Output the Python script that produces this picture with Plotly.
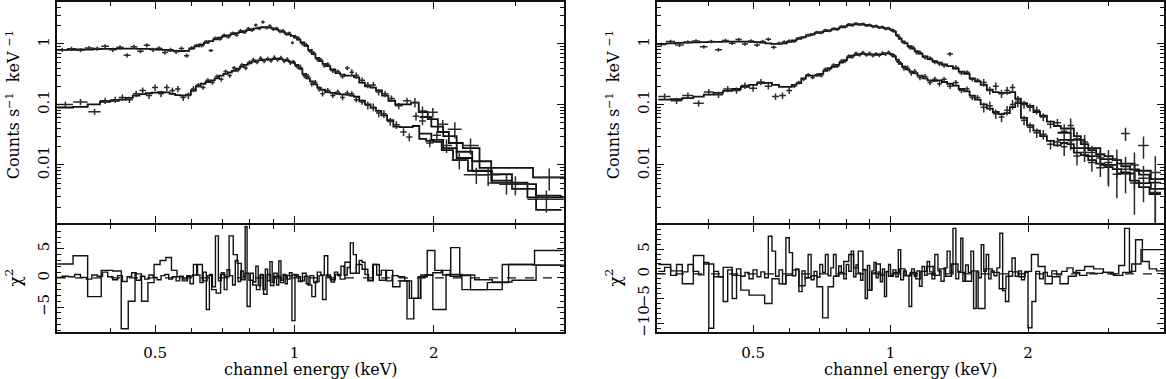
"""Two X-ray spectra (counts + chi residuals), XSPEC-style, rebuilt with plotly."""

import plotly.graph_objects as go

# ---------------- axis ticks ----------------
X_MAJOR = [0.5, 1, 2]
X_MAJOR_TEXT = ["0.5", "1", "2"]
X_MINOR = [0.4, 0.6, 0.7, 0.8, 0.9, 3]
Y_MAJOR = [0.01, 0.1, 1]
Y_MAJOR_TEXT = ["0.01", "0.1", "1"]
Y_MINOR = [0.002, 0.003, 0.004, 0.005, 0.006, 0.007, 0.008, 0.009,
           0.02, 0.03, 0.04, 0.05, 0.06, 0.07, 0.08, 0.09,
           0.2, 0.3, 0.4, 0.5, 0.6, 0.7, 0.8, 0.9, 2, 3, 4]
RES_L_TICKS = [-5, 0, 5]
RES_R_TICKS = [-10, -5, 0, 5]

# ---------------- left panel, bright spectrum ----------------
LA_E = [0.315, 0.33, 0.345, 0.36, 0.375, 0.39, 0.405, 0.42, 0.435, 0.45,
        0.465, 0.48, 0.495, 0.51, 0.525, 0.54, 0.555, 0.57, 0.585, 0.60,
        0.615, 0.63, 0.645, 0.66, 0.675, 0.69, 0.705, 0.72, 0.735, 0.75,
        0.765, 0.78, 0.795, 0.81, 0.825, 0.84, 0.855, 0.87, 0.885, 0.90,
        0.915, 0.93, 0.945, 0.96, 0.975, 0.99, 1.005, 1.02, 1.04, 1.06,
        1.08, 1.10, 1.12, 1.14, 1.16, 1.18, 1.21, 1.24, 1.27, 1.30,
        1.33, 1.36, 1.40, 1.44, 1.48, 1.52, 1.57, 1.62, 1.68, 1.75,
        1.82, 1.89, 1.99, 2.09, 2.22, 2.40, 2.62, 3.00, 3.55]
LA_MODEL = [0.80, 0.80, 0.81, 0.81, 0.82, 0.83, 0.83, 0.84, 0.84, 0.84,
            0.83, 0.83, 0.82, 0.81, 0.80, 0.78, 0.77, 0.76, 0.77, 0.84,
            0.91, 0.98, 1.04, 1.11, 1.19, 1.27, 1.33, 1.39, 1.45, 1.51,
            1.57, 1.63, 1.69, 1.75, 1.81, 1.86, 1.89, 1.90, 1.87, 1.81,
            1.74, 1.66, 1.58, 1.50, 1.43, 1.36, 1.28, 1.18, 1.06, 0.93,
            0.80, 0.68, 0.59, 0.52, 0.47, 0.43, 0.38, 0.33, 0.31, 0.30,
            0.30, 0.28, 0.23, 0.20, 0.19, 0.17, 0.14, 0.115, 0.10, 0.10,
            0.107, 0.075, 0.057, 0.035, 0.023, 0.019, 0.0089, 0.0089, 0.0062]
LA_RATE = [0.80, 0.83, 0.79, 0.86, 0.84, 0.92, 0.80, 0.88, 0.65, 0.90,
           0.76, 0.95, 0.80, 0.85, 0.72, 0.80, 0.74, 0.84, 0.64, 0.86,
           0.95, 0.93, 1.10, 0.78, 1.25, 1.20, 1.40, 1.30, 1.52, 1.40,
           1.66, 1.55, 1.80, 1.68, 2.05, 1.80, 2.30, 1.85, 2.00, 1.75,
           1.82, 1.60, 1.66, 1.45, 1.52, 1.05, 1.32, 1.24, 1.02, 0.97,
           0.76, 0.71, 0.56, 0.55, 0.44, 0.46, 0.36, 0.35, 0.29, 0.40,
           0.34, 0.30, 0.25, 0.21, 0.21, 0.16, 0.15, 0.125, 0.095, 0.115,
           0.108, 0.078, 0.074, 0.047, 0.039, 0.021, 0.0069, 0.0048, 0.0062]
LA_REL = [0.08, 0.08, 0.08, 0.08, 0.08, 0.08, 0.08, 0.08, 0.08, 0.08,
          0.08, 0.08, 0.08, 0.08, 0.08, 0.08, 0.08, 0.08, 0.08, 0.08,
          0.06, 0.06, 0.06, 0.06, 0.06, 0.06, 0.06, 0.06, 0.06, 0.06,
          0.06, 0.06, 0.06, 0.06, 0.06, 0.06, 0.06, 0.06, 0.06, 0.06,
          0.06, 0.06, 0.06, 0.06, 0.06, 0.06, 0.08, 0.08, 0.08, 0.08,
          0.08, 0.08, 0.08, 0.08, 0.08, 0.08, 0.08, 0.08, 0.08, 0.08,
          0.12, 0.12, 0.12, 0.12, 0.12, 0.12, 0.12, 0.12, 0.12, 0.12,
          0.18, 0.18, 0.18, 0.18, 0.30, 0.30, 0.35, 0.35, 0.40]

# ---------------- left panel, faint spectrum ----------------
LB_E = [0.32, 0.345, 0.37, 0.39, 0.41, 0.425, 0.44, 0.455, 0.47, 0.485,
        0.50, 0.515, 0.53, 0.545, 0.56, 0.575, 0.59, 0.605, 0.62, 0.635,
        0.65, 0.665, 0.68, 0.695, 0.71, 0.725, 0.74, 0.755, 0.77, 0.785,
        0.80, 0.815, 0.83, 0.845, 0.86, 0.875, 0.89, 0.905, 0.92, 0.935,
        0.95, 0.965, 0.98, 0.995, 1.01, 1.03, 1.05, 1.07, 1.09, 1.11,
        1.13, 1.15, 1.18, 1.21, 1.24, 1.27, 1.30, 1.33, 1.36, 1.40,
        1.44, 1.48, 1.52, 1.56, 1.61, 1.66, 1.72, 1.77, 1.83, 1.89,
        1.96, 2.03, 2.13, 2.27, 2.47, 2.87, 3.50]
LB_MODEL = [0.089, 0.091, 0.10, 0.11, 0.115, 0.12, 0.128, 0.14, 0.148, 0.153,
            0.157, 0.16, 0.158, 0.15, 0.143, 0.14, 0.145, 0.17, 0.20, 0.22,
            0.235, 0.25, 0.27, 0.30, 0.32, 0.34, 0.36, 0.39, 0.42, 0.45,
            0.48, 0.51, 0.53, 0.54, 0.55, 0.55, 0.555, 0.565, 0.57, 0.56,
            0.545, 0.53, 0.51, 0.49, 0.45, 0.39, 0.32, 0.27, 0.24, 0.215,
            0.19, 0.175, 0.16, 0.155, 0.15, 0.147, 0.145, 0.14, 0.134, 0.115,
            0.10, 0.088, 0.078, 0.066, 0.055, 0.043, 0.042, 0.042, 0.044, 0.027,
            0.025, 0.024, 0.0175, 0.012, 0.008, 0.0051, 0.0029]
LB_RATE = [0.10, 0.11, 0.076, 0.115, 0.12, 0.13, 0.12, 0.15, 0.17, 0.14,
           0.19, 0.15, 0.19, 0.17, 0.18, 0.13, 0.14, 0.18, 0.21, 0.19,
           0.25, 0.23, 0.29, 0.26, 0.35, 0.30, 0.40, 0.37, 0.45, 0.40,
           0.50, 0.55, 0.50, 0.58, 0.52, 0.57, 0.53, 0.60, 0.55, 0.59,
           0.52, 0.56, 0.49, 0.51, 0.43, 0.41, 0.30, 0.29, 0.22, 0.23,
           0.18, 0.15, 0.17, 0.14, 0.16, 0.13, 0.155, 0.15, 0.12, 0.11,
           0.097, 0.09, 0.072, 0.07, 0.052, 0.046, 0.035, 0.029, 0.064, 0.053,
           0.023, 0.031, 0.021, 0.012, 0.0069, 0.005, 0.0027]
LB_REL = [0.12, 0.12, 0.12, 0.12, 0.12, 0.12, 0.12, 0.12, 0.12, 0.12,
          0.12, 0.12, 0.12, 0.12, 0.12, 0.12, 0.12, 0.12, 0.08, 0.08,
          0.08, 0.08, 0.08, 0.08, 0.08, 0.08, 0.08, 0.08, 0.08, 0.08,
          0.08, 0.08, 0.08, 0.08, 0.08, 0.08, 0.08, 0.08, 0.08, 0.08,
          0.08, 0.08, 0.08, 0.08, 0.08, 0.10, 0.10, 0.10, 0.10, 0.10,
          0.10, 0.10, 0.10, 0.10, 0.10, 0.10, 0.10, 0.10, 0.10, 0.10,
          0.15, 0.15, 0.15, 0.15, 0.15, 0.15, 0.15, 0.15, 0.15, 0.15,
          0.15, 0.15, 0.25, 0.30, 0.30, 0.35, 0.40]

# second detector models, hard band only
LA2_E = [1.92, 2.03, 2.16, 2.32, 2.52, 2.80, 3.10, 3.55]
LA2_MODEL = [0.062, 0.043, 0.030, 0.0165, 0.0115, 0.0070, 0.0048, 0.0031]
LB2_E = [1.92, 2.03, 2.16, 2.32, 2.52, 2.80, 3.10, 3.55]
LB2_MODEL = [0.033, 0.026, 0.019, 0.0130, 0.0079, 0.0055, 0.0040, 0.0018]

# ---------------- left residuals ----------------
LR1_E = [0.31, 0.32, 0.33, 0.34, 0.35, 0.36, 0.37, 0.38, 0.39, 0.40,
         0.41, 0.42, 0.43, 0.44, 0.45, 0.46, 0.47, 0.48, 0.49, 0.50,
         0.51, 0.52, 0.53, 0.54, 0.55, 0.56, 0.57, 0.58, 0.59, 0.60,
         0.61, 0.62, 0.63, 0.64, 0.65, 0.66, 0.67, 0.68, 0.69, 0.70,
         0.71, 0.72, 0.73, 0.74, 0.75, 0.76, 0.77, 0.78, 0.785, 0.795,
         0.81, 0.82, 0.83, 0.84, 0.85, 0.86, 0.87, 0.88, 0.89, 0.90,
         0.91, 0.92, 0.93, 0.94, 0.95, 0.96, 0.97, 0.98, 0.995, 1.01,
         1.03, 1.05, 1.07, 1.09, 1.11, 1.13, 1.15, 1.17, 1.19, 1.21,
         1.23, 1.25, 1.27, 1.29, 1.31, 1.33, 1.35, 1.37, 1.39, 1.41,
         1.43, 1.46, 1.49, 1.52, 1.56, 1.60, 1.65, 1.70, 1.76, 1.82,
         1.88, 1.95, 2.03, 2.12, 2.22, 2.35, 2.55, 2.80, 3.10, 3.55]
LR1_V = [0.1, 0.3, 0.2, 0.6, 0.1, -0.2, 0.5, 0.3, 1.0, 0.2,
         -0.3, 0.4, -0.6, 0.2, 0.9, -0.4, 0.3, -0.2, 0.5, 0.1,
         -0.3, 0.4, 0.6, -0.2, 0.2, -0.5, 0.3, -0.2, 0.4, -1.0,
         2.3, 0.5, -0.8, 1.0, -5.4, 0.6, -1.5, 7.2, -0.5, 0.9,
         -2.0, 1.4, 0.4, -1.2, 3.0, -0.6, 1.2, 0.3, 8.8, -4.9,
         0.8, -0.7, 2.0, -1.3, 0.6, -2.0, 1.5, -0.5, 2.8, -0.8,
         0.3, -1.2, 2.9, -0.4, 0.6, -1.0, 0.4, 0.9, -7.3, 0.5,
         -0.6, 0.8, -1.0, 0.4, -0.8, 1.0, 0.5, 3.8, 0.2, -0.7,
         1.0, 0.4, 2.0, 0.5, 1.8, 6.0, 4.0, 0.8, 3.0, 2.7,
         0.6, -0.4, 2.3, 0.5, 1.3, -0.5, 0.4, 0.2, -0.5, -3.5,
         0.2, 0.5, 0.9, 1.3, 0.3, 0.5, -0.3, -0.7, -0.4, 2.2]
LR2_E = [0.32, 0.345, 0.37, 0.395, 0.415, 0.43, 0.445, 0.46, 0.475, 0.49,
         0.505, 0.52, 0.535, 0.55, 0.565, 0.58, 0.595, 0.61, 0.625, 0.64,
         0.655, 0.67, 0.685, 0.70, 0.715, 0.73, 0.745, 0.76, 0.775, 0.79,
         0.805, 0.82, 0.835, 0.85, 0.865, 0.88, 0.895, 0.91, 0.925, 0.94,
         0.955, 0.97, 0.985, 1.00, 1.02, 1.04, 1.06, 1.08, 1.10, 1.12,
         1.14, 1.16, 1.18, 1.21, 1.24, 1.27, 1.30, 1.34, 1.38, 1.42,
         1.46, 1.50, 1.55, 1.60, 1.66, 1.72, 1.78, 1.84, 1.90, 1.97,
         2.05, 2.13, 2.22, 2.33, 2.47, 2.75, 3.05, 3.55]
LR2_V = [2.4, 3.8, -3.2, 1.3, 1.2, -8.7, -4.0, 0.7, -4.0, -0.8,
         2.3, 3.0, 3.5, 1.3, 0.2, -0.5, 0.3, 0.5, 2.3, -0.5,
         0.4, -2.0, -2.6, 0.6, 0.2, 7.2, 4.0, 2.5, -0.3, 0.8,
         -0.4, -1.2, -2.0, 0.5, -2.8, 0.6, -1.3, 0.8, 0.3, -0.8,
         0.5, -0.2, 0.4, 0.6, 0.2, -0.5, 0.3, -1.2, -3.2, -0.6,
         0.4, -3.7, 0.5, -0.3, 0.6, -0.2, 2.7, 0.8, 2.3, 1.5,
         -0.5, 2.3, -0.4, 1.3, -1.5, -0.5, -7.0, -3.5, 0.2, 4.7,
         1.3, 0.5, 5.2, 0.4, -2.0, -0.8, 2.3, 4.7]
LR3_E = [1.72, 1.82, 1.93, 2.05, 2.20, 2.40, 2.62, 3.00, 3.55]
LR3_V = [-0.5, -3.5, 0.5, -5.4, 0.6, -2.0, -2.0, 2.3, 2.2]

# ---------------- right panel, bright spectrum ----------------
RA_E = [0.315, 0.33, 0.345, 0.36, 0.375, 0.39, 0.405, 0.42, 0.435, 0.45,
        0.465, 0.48, 0.495, 0.51, 0.525, 0.54, 0.555, 0.57, 0.585, 0.60,
        0.615, 0.63, 0.645, 0.66, 0.675, 0.69, 0.705, 0.72, 0.735, 0.75,
        0.765, 0.78, 0.795, 0.81, 0.825, 0.84, 0.855, 0.87, 0.885, 0.90,
        0.915, 0.93, 0.945, 0.96, 0.975, 0.99, 1.005, 1.02, 1.035, 1.05,
        1.065, 1.08, 1.10, 1.12, 1.14, 1.16, 1.19, 1.22, 1.25, 1.28,
        1.31, 1.35, 1.39, 1.43, 1.47, 1.51, 1.55, 1.60, 1.65, 1.70,
        1.75, 1.80, 1.85, 1.90, 1.96, 2.02, 2.09, 2.16, 2.24, 2.32,
        2.40, 2.48, 2.56, 2.66, 2.76, 2.88, 3.00, 3.13, 3.27, 3.42,
        3.58, 3.80]
RA_MODEL = [1.00, 1.02, 1.04, 1.05, 1.06, 1.07, 1.08, 1.08, 1.09, 1.09,
            1.09, 1.09, 1.08, 1.07, 1.05, 1.02, 1.00, 1.00, 1.02, 1.08,
            1.15, 1.22, 1.30, 1.38, 1.45, 1.52, 1.57, 1.63, 1.68, 1.74,
            1.80, 1.88, 1.96, 2.04, 2.10, 2.12, 2.12, 2.10, 2.06, 2.02,
            1.98, 1.94, 1.90, 1.86, 1.82, 1.78, 1.72, 1.60, 1.40, 1.22,
            1.10, 1.02, 0.92, 0.84, 0.76, 0.69, 0.62, 0.56, 0.52, 0.49,
            0.46, 0.43, 0.39, 0.35, 0.32, 0.27, 0.24, 0.21, 0.175, 0.16,
            0.155, 0.155, 0.16, 0.125, 0.105, 0.095, 0.075, 0.065, 0.052, 0.044,
            0.040, 0.040, 0.030, 0.022, 0.0175, 0.015, 0.014, 0.012, 0.0095, 0.0084,
            0.0069, 0.0051]
RA_RATE = [0.98, 1.10, 0.96, 1.08, 1.12, 0.90, 1.10, 0.80, 1.14, 1.03,
           1.18, 1.00, 1.12, 0.96, 1.10, 1.20, 0.88, 1.03, 1.08, 1.12,
           1.10, 1.25, 1.28, 1.40, 1.42, 1.58, 1.52, 1.70, 1.64, 1.80,
           1.74, 1.95, 1.90, 2.12, 2.02, 2.20, 2.08, 2.15, 2.00, 2.08,
           1.92, 2.00, 1.86, 1.92, 1.78, 1.84, 1.68, 1.64, 1.36, 1.26,
           1.06, 1.05, 0.88, 0.87, 0.73, 0.72, 0.60, 0.58, 0.50, 0.47,
           0.44, 0.68, 0.41, 0.33, 0.34, 0.26, 0.25, 0.23, 0.17, 0.20,
           0.15, 0.17, 0.19, 0.12, 0.10, 0.09, 0.08, 0.062, 0.047, 0.050,
           0.036, 0.045, 0.027, 0.024, 0.016, 0.013, 0.011, 0.012, 0.033, 0.010,
           0.021, 0.0075]
RA_REL = [0.07, 0.07, 0.07, 0.07, 0.07, 0.07, 0.07, 0.07, 0.07, 0.07,
          0.07, 0.07, 0.07, 0.07, 0.07, 0.07, 0.07, 0.07, 0.07, 0.07,
          0.05, 0.05, 0.05, 0.05, 0.05, 0.05, 0.05, 0.05, 0.05, 0.05,
          0.05, 0.05, 0.05, 0.05, 0.05, 0.05, 0.05, 0.05, 0.05, 0.05,
          0.05, 0.05, 0.05, 0.05, 0.05, 0.05, 0.05, 0.05, 0.05, 0.05,
          0.05, 0.05, 0.08, 0.08, 0.08, 0.08, 0.08, 0.08, 0.08, 0.08,
          0.08, 0.08, 0.08, 0.08, 0.08, 0.08, 0.08, 0.15, 0.15, 0.15,
          0.15, 0.15, 0.15, 0.15, 0.15, 0.15, 0.15, 0.15, 0.15, 0.15,
          0.30, 0.30, 0.30, 0.30, 0.30, 0.30, 0.60, 0.50, 0.25, 0.60,
          0.40, 0.85]

# ---------------- right panel, faint spectrum ----------------
RB_E = [0.32, 0.34, 0.36, 0.38, 0.40, 0.42, 0.44, 0.46, 0.48, 0.50,
        0.52, 0.54, 0.56, 0.58, 0.60, 0.615, 0.63, 0.645, 0.66, 0.675,
        0.69, 0.705, 0.72, 0.735, 0.75, 0.765, 0.78, 0.795, 0.81, 0.825,
        0.84, 0.855, 0.87, 0.885, 0.90, 0.915, 0.93, 0.945, 0.96, 0.975,
        0.99, 1.005, 1.02, 1.035, 1.05, 1.07, 1.09, 1.11, 1.13, 1.16,
        1.19, 1.22, 1.25, 1.28, 1.31, 1.35, 1.39, 1.43, 1.47, 1.51,
        1.55, 1.60, 1.65, 1.70, 1.75, 1.80, 1.85, 1.90, 1.96, 2.02,
        2.09, 2.16, 2.24, 2.32, 2.40, 2.48, 2.56, 2.66, 2.76, 2.88,
        3.00, 3.13, 3.27, 3.42, 3.58, 3.80]
RB_MODEL = [0.12, 0.122, 0.127, 0.135, 0.145, 0.155, 0.168, 0.18, 0.195, 0.21,
            0.225, 0.228, 0.21, 0.195, 0.195, 0.21, 0.225, 0.27, 0.30, 0.30,
            0.30, 0.32, 0.36, 0.40, 0.42, 0.45, 0.49, 0.54, 0.60, 0.64,
            0.66, 0.68, 0.69, 0.68, 0.67, 0.67, 0.66, 0.67, 0.68, 0.70,
            0.70, 0.68, 0.62, 0.55, 0.47, 0.42, 0.38, 0.35, 0.33, 0.30,
            0.27, 0.25, 0.245, 0.25, 0.235, 0.22, 0.205, 0.18, 0.165, 0.14,
            0.12, 0.10, 0.085, 0.075, 0.069, 0.072, 0.09, 0.105, 0.06, 0.045,
            0.037, 0.03, 0.025, 0.021, 0.023, 0.022, 0.016, 0.0145, 0.012, 0.0105,
            0.0092, 0.0085, 0.0075, 0.0055, 0.0043, 0.0033]
RB_RATE = [0.135, 0.115, 0.14, 0.105, 0.16, 0.145, 0.18, 0.17, 0.205, 0.185,
           0.235, 0.20, 0.135, 0.14, 0.17, 0.20, 0.23, 0.26, 0.31, 0.28,
           0.31, 0.30, 0.38, 0.38, 0.45, 0.43, 0.52, 0.52, 0.63, 0.61,
           0.70, 0.66, 0.72, 0.66, 0.70, 0.64, 0.69, 0.65, 0.71, 0.68,
           0.73, 0.66, 0.64, 0.52, 0.49, 0.40, 0.40, 0.33, 0.35, 0.28,
           0.29, 0.23, 0.26, 0.22, 0.26, 0.20, 0.23, 0.17, 0.18, 0.13,
           0.13, 0.09, 0.095, 0.07, 0.062, 0.08, 0.10, 0.11, 0.055, 0.042,
           0.034, 0.032, 0.022, 0.024, 0.02, 0.025, 0.014, 0.016, 0.011, 0.009,
           0.0095, 0.007, 0.0085, 0.005, 0.006, 0.0035]
RB_REL = [0.12, 0.12, 0.12, 0.12, 0.12, 0.12, 0.12, 0.12, 0.12, 0.12,
          0.12, 0.12, 0.12, 0.12, 0.12, 0.07, 0.07, 0.07, 0.07, 0.07,
          0.07, 0.07, 0.07, 0.07, 0.07, 0.07, 0.07, 0.07, 0.07, 0.07,
          0.07, 0.07, 0.07, 0.07, 0.07, 0.07, 0.07, 0.07, 0.07, 0.07,
          0.07, 0.07, 0.07, 0.07, 0.07, 0.10, 0.10, 0.10, 0.10, 0.10,
          0.10, 0.10, 0.10, 0.10, 0.10, 0.10, 0.10, 0.10, 0.10, 0.10,
          0.10, 0.18, 0.18, 0.18, 0.18, 0.18, 0.18, 0.18, 0.18, 0.18,
          0.18, 0.18, 0.18, 0.18, 0.30, 0.30, 0.30, 0.30, 0.30, 0.30,
          0.50, 0.60, 0.60, 0.70, 0.60, 0.80]

RA2_E = [2.40, 2.56, 2.76, 3.00, 3.27, 3.58, 3.85]
RA2_MODEL = [0.034, 0.026, 0.019, 0.0125, 0.0105, 0.0080, 0.0058]
RB2_E = [2.40, 2.56, 2.76, 3.00, 3.27, 3.58, 3.85]
RB2_MODEL = [0.026, 0.019, 0.014, 0.0100, 0.0072, 0.0050, 0.0040]

# ---------------- right residuals ----------------
RR1_E = [0.315, 0.325, 0.335, 0.345, 0.355, 0.365, 0.375, 0.385, 0.395, 0.405,
         0.415, 0.425, 0.435, 0.445, 0.455, 0.465, 0.475, 0.485, 0.495, 0.505,
         0.515, 0.525, 0.535, 0.545, 0.555, 0.565, 0.575, 0.585, 0.595, 0.605,
         0.615, 0.625, 0.635, 0.645, 0.655, 0.665, 0.675, 0.685, 0.695, 0.705,
         0.715, 0.725, 0.735, 0.745, 0.755, 0.765, 0.775, 0.785, 0.795, 0.805,
         0.815, 0.825, 0.835, 0.845, 0.855, 0.865, 0.875, 0.885, 0.895, 0.905,
         0.915, 0.925, 0.935, 0.945, 0.955, 0.965, 0.975, 0.985, 0.995, 1.005,
         1.02, 1.035, 1.045, 1.06, 1.075, 1.09, 1.105, 1.12, 1.135, 1.15,
         1.165, 1.18, 1.195, 1.21, 1.225, 1.24, 1.26, 1.28, 1.30, 1.32,
         1.34, 1.36, 1.38, 1.40, 1.42, 1.43, 1.45, 1.47, 1.49, 1.51,
         1.53, 1.55, 1.57, 1.59, 1.61, 1.63, 1.65, 1.67, 1.70, 1.72,
         1.75, 1.77, 1.80, 1.83, 1.86, 1.89, 1.92, 1.95, 1.98, 2.02,
         2.06, 2.10, 2.14, 2.18, 2.23, 2.28, 2.34, 2.40, 2.47, 2.55,
         2.64, 2.74, 2.85, 2.97, 3.10, 3.22, 3.29, 3.38, 3.50, 3.62,
         3.75, 3.90]
RR1_V = [0.5, 1.3, -0.3, 1.9, 0.4, 1.9, 0.5, -0.2, 2.3, -11.0,
         0.5, -0.6, -5.6, 0.8, -5.0, 1.0, -0.5, 0.3, -1.0, 0.8,
         -0.6, 0.4, -0.8, 7.6, 4.6, -0.5, 0.8, -2.0, 7.3, 4.3,
         -0.4, 1.0, -3.6, 0.6, -0.8, 3.9, -1.2, 0.5, -0.7, 1.9,
         0.3, 3.9, -0.4, 1.2, 3.9, -0.5, 1.6, 0.2, -1.0, 1.9,
         0.5, 4.6, -0.6, 1.8, 0.2, -1.3, 0.9, -5.0, 1.7, -3.3,
         0.6, 2.3, -0.8, 0.4, -1.6, 1.0, -4.6, 0.5, 1.9, -0.4,
         0.8, -0.6, 4.9, -1.2, 0.6, -0.3, -6.6, 1.0, -0.5, 0.6,
         -2.5, 1.5, -0.3, 2.5, 0.4, -1.0, 3.9, 0.6, -1.5, 1.2,
         4.6, 0.3, 9.2, -1.0, 0.5, 7.2, -1.5, 1.8, 0.3, 4.6,
         -7.0, 0.4, -0.8, 5.9, 0.5, 3.9, -1.0, 0.6, -0.4, 1.2,
         8.2, -3.4, -5.6, 0.5, 3.2, -0.5, 0.6, -1.2, 0.3, -10.9,
         -5.6, 0.5, -1.0, 0.3, -0.5, 0.6, -0.2, 0.5, 1.2, 0.3,
         -0.3, 0.2, 0.1, 0.3, 0.0, 1.7, 9.2, 0.5, 6.9, 2.5,
         1.0, 0.6]
RR2_E = [0.32, 0.34, 0.36, 0.38, 0.40, 0.42, 0.44, 0.46, 0.48, 0.50,
         0.52, 0.54, 0.56, 0.58, 0.60, 0.62, 0.64, 0.66, 0.68, 0.70,
         0.72, 0.74, 0.76, 0.78, 0.80, 0.82, 0.84, 0.86, 0.88, 0.90,
         0.92, 0.94, 0.96, 0.98, 1.00, 1.03, 1.06, 1.09, 1.12, 1.15,
         1.18, 1.22, 1.26, 1.30, 1.34, 1.38, 1.43, 1.48, 1.53, 1.58,
         1.64, 1.70, 1.76, 1.82, 1.88, 1.94, 2.00, 2.07, 2.14, 2.22,
         2.30, 2.40, 2.50, 2.60, 2.72, 2.85, 3.00, 3.15, 3.30, 3.45,
         3.62, 3.85]
RR2_V = [1.9, 0.6, -2.0, 3.7, 2.0, -0.6, 1.3, -0.3, -3.3, -4.3,
         -4.3, -6.0, -1.0, -2.0, -0.3, 0.8, -2.4, -0.8, -0.4, -2.6,
         -8.9, -2.6, -0.5, 0.3, 2.5, 3.9, 1.2, 4.6, 0.8, -3.3,
         0.2, 2.0, -0.3, 0.4, -0.5, 0.3, 1.0, -0.4, 0.3, -1.0,
         0.5, 1.5, -0.3, 1.0, -0.5, 2.0, 0.3, -1.5, 0.6, -7.0,
         1.0, 0.3, -3.0, -0.5, 0.4, -0.6, 0.5, 3.9, 1.5, -2.0,
         -0.6, -2.0, -0.5, 0.7, 1.5, 1.0, 0.3, -0.3, 0.3, 2.0,
         4.9, 4.9]

INK = "#111111"
DATA_INK = "#2a2a2a"
FONT = "DejaVu Serif"
W, H = 1166, 379
NB = "\u00a0"


def _edges(e):
    """Bin edges from bin centres (midpoints, outer edges mirrored)."""
    mids = [(a + b) / 2 for a, b in zip(e[:-1], e[1:])]
    return [e[0] - (e[1] - e[0]) / 2] + mids + [e[-1] + (e[-1] - e[-2]) / 2]


def _step(e, v, xa, ya, width=1.8):
    return go.Scatter(x=_edges(e), y=list(v) + [v[-1]], mode="lines",
                      line=dict(color=INK, width=width, shape="hv"),
                      xaxis=xa, yaxis=ya, showlegend=False, hoverinfo="skip")


def _data(e, rate, rel, xa, ya):
    edges = _edges(e)
    half = [(b - a) / 2 for a, b in zip(edges[:-1], edges[1:])]
    err = [r * f for r, f in zip(rate, rel)]
    return go.Scatter(x=e, y=rate, mode="markers",
                      marker=dict(size=1, color=DATA_INK),
                      error_x=dict(type="data", array=half, width=0, thickness=1.5, color=DATA_INK),
                      error_y=dict(type="data", array=err, width=0, thickness=1.5, color=DATA_INK),
                      xaxis=xa, yaxis=ya, showlegend=False, hoverinfo="skip")


AXIS_COMMON = dict(showline=True, linecolor=INK, linewidth=2, mirror="ticks",
                   ticks="inside", ticklen=7, tickwidth=1.4, tickcolor=INK,
                   showgrid=False, zeroline=False,
                   tickfont=dict(family=FONT, size=15, color="black"))


def _xaxis(domain, anchor, rng, labels):
    return dict(AXIS_COMMON, domain=domain, anchor=anchor, type="log", range=rng,
                tickmode="array", tickvals=X_MAJOR, ticktext=X_MAJOR_TEXT,
                showticklabels=labels, ticklabelstandoff=6,
                minor=dict(tickmode="array", tickvals=X_MINOR, ticks="inside",
                           ticklen=4, tickwidth=1.2, tickcolor=INK))


def _ylog(domain, anchor):
    return dict(AXIS_COMMON, domain=domain, anchor=anchor, type="log",
                range=[-2.968, 0.694], tickmode="array", tickvals=Y_MAJOR,
                ticktext=Y_MAJOR_TEXT, tickangle=-90,
                minor=dict(tickmode="array", tickvals=Y_MINOR, ticks="inside",
                           ticklen=4, tickwidth=1.2, tickcolor=INK))


def _yres(domain, anchor, rng, ticks):
    return dict(AXIS_COMMON, domain=domain, anchor=anchor, range=rng,
                tickmode="array", tickvals=ticks, tickangle=-90,
                minor=dict(dtick=1, ticks="inside", ticklen=4, tickwidth=1.2, tickcolor=INK))


fig = go.Figure()

# left: spectra
for e, m in [(LA_E, LA_MODEL), (LB_E, LB_MODEL), (LA2_E, LA2_MODEL), (LB2_E, LB2_MODEL)]:
    fig.add_trace(_step(e, m, "x", "y"))
fig.add_trace(_data(LA_E, LA_RATE, LA_REL, "x", "y"))
fig.add_trace(_data(LB_E, LB_RATE, LB_REL, "x", "y"))
# left: residuals
for e, v in [(LR1_E, LR1_V), (LR2_E, LR2_V), (LR3_E, LR3_V)]:
    fig.add_trace(_step(e, v, "x2", "y2", width=1.4))

# right: spectra
for e, m in [(RA_E, RA_MODEL), (RB_E, RB_MODEL), (RA2_E, RA2_MODEL), (RB2_E, RB2_MODEL)]:
    fig.add_trace(_step(e, m, "x3", "y3"))
fig.add_trace(_data(RA_E, RA_RATE, RA_REL, "x3", "y3"))
fig.add_trace(_data(RB_E, RB_RATE, RB_REL, "x3", "y3"))
# right: residuals
for e, v in [(RR1_E, RR1_V), (RR2_E, RR2_V)]:
    fig.add_trace(_step(e, v, "x4", "y4", width=1.4))

# dashed zero lines in the residual panels
for xa, ya in [("x2", "y2"), ("x4", "y4")]:
    fig.add_shape(type="line", xref=f"{xa} domain", yref=ya, x0=0, x1=1, y0=0, y1=0,
                  line=dict(color=INK, width=1.2, dash="dash"), layer="below")


def _py(px):
    """pixel row -> paper y (plot area starts 1px from the top)."""
    return (H - px) / (H - 1)


LEFT = [57 / W, 564 / W]
RIGHT = [657 / W, 1164 / W]
# panels 2px apart so the two axis lines (drawn outside) land on one row
TOP = [_py(226), 1.0]
BOT = [_py(336), _py(228)]

fig.update_layout(
    width=W, height=H,
    margin=dict(l=0, r=0, t=1, b=0),
    paper_bgcolor="white", plot_bgcolor="white",
    font=dict(family=FONT, size=15, color="black"),
    showlegend=False,
    xaxis=_xaxis(LEFT, "y", [-0.5129, 0.5821], False),
    yaxis=_ylog(TOP, "x"),
    xaxis2=_xaxis(LEFT, "y2", [-0.5129, 0.5821], True),
    yaxis2=_yres(BOT, "x2", [-9.2, 9.0], RES_L_TICKS),
    xaxis3=_xaxis(RIGHT, "y3", [-0.5114, 0.5988], False),
    yaxis3=_ylog(TOP, "x3"),
    xaxis4=_xaxis(RIGHT, "y4", [-0.5114, 0.5988], True),
    yaxis4=_yres(BOT, "x4", [-11.7, 9.8], RES_R_TICKS),
)

for x0 in (0, 600):
    fig.add_annotation(x=(13 + x0) / W, y=_py(106), xref="paper", yref="paper",
                       xanchor="center", yanchor="middle",
                       text=f"Counts s<sup>\u22121</sup>{NB}{NB}keV{NB}<sup>\u22121</sup>",
                       textangle=-90, showarrow=False, font=dict(size=16))
    fig.add_annotation(x=(13 + x0) / W, y=_py(281), xref="paper", yref="paper",
                       xanchor="center", yanchor="middle",
                       text="\u03c7<sup>2</sup>", textangle=-90, showarrow=False,
                       font=dict(size=17))
    fig.add_annotation(x=(311 + x0) / W, y=_py(374), xref="paper", yref="paper",
                       xanchor="center", yanchor="middle",
                       text="channel energy (keV)", showarrow=False, font=dict(size=16))

fig.write_html("out.html", config={"displayModeBar": False},
               post_script="document.body.style.margin='0';document.body.style.overflow='hidden';")
